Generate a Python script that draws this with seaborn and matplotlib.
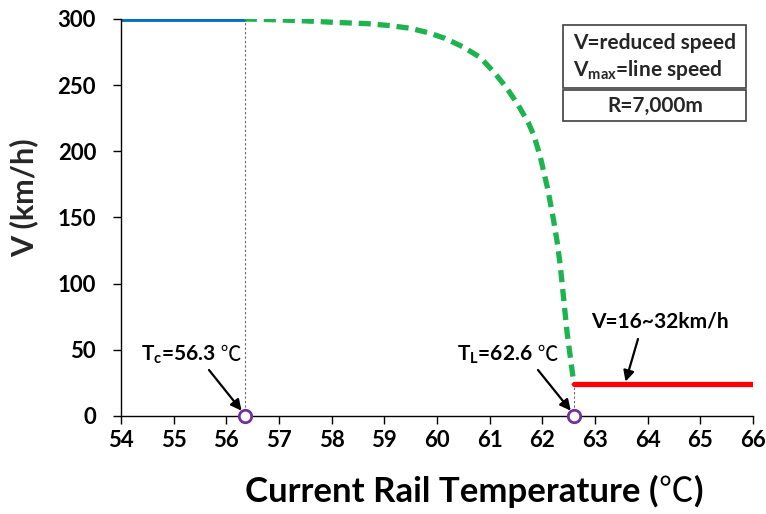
import matplotlib
matplotlib.use("Agg")
import matplotlib.pyplot as plt
import seaborn as sns
from matplotlib.patches import Rectangle
from matplotlib.offsetbox import TextArea, HPacker, AnnotationBbox

sns.set_style("white")
plt.rcParams['font.family'] = ['Lato', 'Noto Sans CJK KR', 'DejaVu Sans']
plt.rcParams['font.weight'] = 'bold'
plt.rcParams['mathtext.fontset'] = 'custom'
plt.rcParams['mathtext.rm'] = 'Lato:bold'
plt.rcParams['mathtext.it'] = 'Lato:bold'
plt.rcParams['mathtext.bf'] = 'Lato:bold'

# Data
blue_x = [54.0, 56.35]
blue_v = [300, 300]
curve_x = [56.35, 56.89, 57.53, 58.03, 58.67, 59.11, 59.49, 59.83, 60.15, 60.49,
           60.82, 61.10, 61.33, 61.54, 61.73, 61.84, 61.96, 62.10, 62.20, 62.28,
           62.34, 62.47, 62.6]
curve_v = [300, 299.5, 298.5, 297.5, 296.5, 295, 293, 289.7, 285.4, 279,
           271, 259, 247.5, 235, 222, 212, 196, 172, 151, 132,
           114, 63, 24]
red_x = [62.6, 66.0]
red_v = [24, 24]
tc = 56.35
tl = 62.6
xticks = list(range(54, 67))
yticks = [0, 50, 100, 150, 200, 250, 300]

W, H = 766, 514
fig = plt.figure(figsize=(W / 100, H / 100), dpi=100)
ax = fig.add_axes([121 / W, 1 - 416 / H, (753 - 121) / W, (416 - 19) / H])

sns.lineplot(x=blue_x, y=blue_v, ax=ax, color="#0070c0", linewidth=4.2, sort=False)
sns.lineplot(x=curve_x, y=curve_v, ax=ax, color="#1db34f", linewidth=3.8,
             linestyle=(0, (2.3, 1.3)), sort=False)
sns.lineplot(x=red_x, y=red_v, ax=ax, color="#ff0000", linewidth=3.8, sort=False)

ax.plot([tc, tc], [0, 300], color="#666666", linestyle=(0, (2, 2)), linewidth=0.8)
ax.plot([tl, tl], [0, 24], color="#666666", linestyle=(0, (2, 2)), linewidth=0.8)
ax.scatter([tc, tl], [0, 0], s=80, facecolor="white", edgecolor="#7030a0",
           linewidth=2, zorder=5, clip_on=False)

ax.set_xlim(54, 66)
ax.set_ylim(0, 300)
ax.set_xticks(xticks)
ax.set_yticks(yticks)
ax.tick_params(axis='both', direction='out', length=6, width=1, color='black',
               labelsize=16, left=True, bottom=True, labelcolor='black')
ax.tick_params(axis='y', pad=12)
ax.tick_params(axis='x', pad=4)
for lab in ax.get_xticklabels() + ax.get_yticklabels():
    lab.set_fontweight('bold')
for s in ['top', 'right']:
    ax.spines[s].set_visible(False)
for s in ['left', 'bottom']:
    ax.spines[s].set_color('black')
    ax.spines[s].set_linewidth(1)


def fp(x, y):
    return (x, H - y)


def rich(parts, x, y, align=(0.5, 0.0)):
    boxes = [TextArea(t, textprops=p) for t, p in parts]
    pack = HPacker(children=boxes, align='baseline', pad=0, sep=0)
    ab = AnnotationBbox(pack, fp(x, y), xycoords='figure pixels', frameon=False,
                        box_alignment=align, pad=0)
    fig.add_artist(ab)


bold = lambda s: dict(fontsize=s, fontweight='bold', family=['Lato'], color='black')
cjk = lambda s: dict(fontsize=s, fontweight='normal', family=['Noto Sans CJK KR'], color='black')

# axis labels
rich([("Current Rail Temperature (", bold(25)), ("℃", cjk(25)), (")", bold(25))],
     474, 510)
fig.text(24 / W, 1 - 198 / H, "V (km/h)", rotation=90, fontsize=22, fontweight='bold',
         ha='center', va='center')

# annotations
rich([("T$_\\mathrm{c}$=56.3", bold(15)), (" ℃", cjk(15))], 191, 366)
rich([("T$_\\mathrm{L}$=62.6", bold(15)), (" ℃", cjk(15))], 508, 366)
rich([("V=16~32km/h", bold(15))], 660, 331)

arrow = dict(arrowstyle='-|>', color='black', lw=1.6, shrinkA=0, shrinkB=0,
             mutation_scale=16)
ax.annotate("", xy=(tc - 0.06, 4), xytext=fp(209, 370), textcoords='figure pixels',
            arrowprops=arrow)
ax.annotate("", xy=(tl - 0.06, 4), xytext=fp(538, 370), textcoords='figure pixels',
            arrowprops=arrow)
ax.annotate("", xy=(63.58, 26), xytext=fp(638, 339), textcoords='figure pixels',
            arrowprops=arrow)

# legend boxes


def fx(px): return px / W
def fy(py): return 1 - py / H


fig.patches.append(Rectangle((fx(563), fy(88)), fx(746) - fx(563), fy(25) - fy(88),
                             transform=fig.transFigure, fill=False, edgecolor='#404040', lw=1.2))
fig.patches.append(Rectangle((fx(563), fy(121)), fx(746) - fx(563), fy(90) - fy(121),
                             transform=fig.transFigure, fill=False, edgecolor='#404040', lw=1.2))
fig.text(fx(573), fy(43), "V=reduced speed", fontsize=15, fontweight='bold', va='center')
fig.text(fx(573), fy(70), "V$_\\mathrm{max}$=line speed", fontsize=15, fontweight='bold', va='center')
fig.text(fx(655), fy(106), "R=7,000m", fontsize=15, fontweight='bold', va='center', ha='center')

fig.savefig("out.png", dpi=100)
